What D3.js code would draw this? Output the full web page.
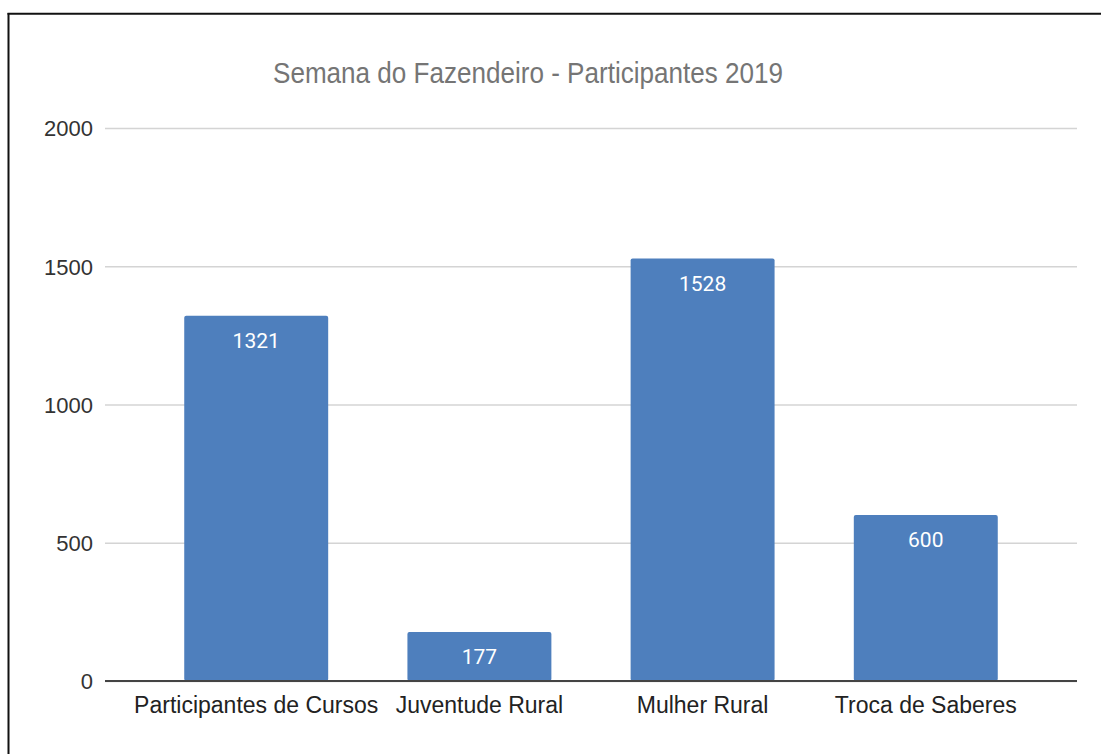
<!DOCTYPE html>
<html>
<head>
<meta charset="utf-8">
<script src="https://cdn.jsdelivr.net/npm/d3@7"></script>
<style>
  body { margin: 0; background: #fff; }
  svg { display: block; }
  .tick text { font-family: "Liberation Sans", Arial, sans-serif; }
</style>
</head>
<body>
<div id="chart"></div>
<script>
// values
const categories = ['Participantes de Cursos', 'Juventude Rural', 'Mulher Rural', 'Troca de Saberes'];
const participants = [1321, 177, 1528, 600];
const yTicks = [0, 500, 1000, 1500, 2000];
const chartTitle = 'Semana do Fazendeiro - Participantes 2019';

const width = 1101, height = 754;
const margin = { top: 128, right: 24, bottom: 73, left: 105 };
const innerW = width - margin.left - margin.right;
const innerH = height - margin.top - margin.bottom;

const svg = d3.select('#chart')
    .append('svg')
    .attr('width', width)
    .attr('height', height);

// frame lines (left and top only, as in the screenshot)
svg.append('line')
    .attr('x1', 8.5).attr('x2', 8.5)
    .attr('y1', 13).attr('y2', height)
    .attr('stroke', '#111').attr('stroke-width', 2);
svg.append('line')
    .attr('x1', 7.5).attr('x2', width)
    .attr('y1', 13.7).attr('y2', 13.7)
    .attr('stroke', '#111').attr('stroke-width', 2);

const chart = svg.append('g')
    .attr('transform', `translate(${margin.left},${margin.top})`);

const x = d3.scaleBand()
    .domain(categories)
    .range([0, innerW])
    .padding(0.355);

const y = d3.scaleLinear()
    .domain([0, 2000])
    .range([innerH, 0]);

// gridlines + y labels
const yAxis = d3.axisLeft(y)
    .tickValues(yTicks)
    .tickSize(-innerW)
    .tickPadding(12)
    .tickFormat(d3.format('d'));

chart.append('g')
    .attr('class', 'y-axis')
    .call(yAxis)
    .call(g => g.select('.domain').remove())
    .call(g => g.selectAll('.tick line')
        .attr('stroke', '#d4d4d4')
        .attr('stroke-width', 1.5))
    .call(g => g.selectAll('.tick text')
        .attr('font-size', 22)
        .attr('fill', '#333')
        .attr('dy', '0.36em'));

// bars
chart.selectAll('.bar')
    .data(participants)
    .join('rect')
    .attr('class', 'bar')
    .attr('x', (d, i) => x(categories[i]))
    .attr('y', d => y(d))
    .attr('width', x.bandwidth())
    .attr('height', d => innerH - y(d))
    .attr('rx', 2)
    .attr('fill', '#4e7fbd');

// value labels inside the bars
chart.selectAll('.value')
    .data(participants)
    .join('text')
    .attr('class', 'value')
    .attr('x', (d, i) => x(categories[i]) + x.bandwidth() / 2)
    .attr('y', d => y(d) + 32)
    .attr('text-anchor', 'middle')
    .attr('font-family', 'Roboto, sans-serif')
    .attr('font-size', 21)
    .attr('fill', '#fff')
    .text(d => d);

// baseline
chart.append('line')
    .attr('x1', 0).attr('x2', innerW)
    .attr('y1', y(0)).attr('y2', y(0))
    .attr('stroke', '#444')
    .attr('stroke-width', 2);

// x labels
const xAxis = d3.axisBottom(x).tickSize(0).tickPadding(16);
chart.append('g')
    .attr('class', 'x-axis')
    .attr('transform', `translate(0,${innerH})`)
    .call(xAxis)
    .call(g => g.select('.domain').remove())
    .call(g => g.selectAll('.tick text')
        .attr('font-size', 23)
        .attr('fill', '#222'));

// title, slightly stretched vertically like the screenshot
svg.append('text')
    .attr('transform', 'translate(273,83) scale(1,1.15)')
    .attr('font-family', '"Liberation Sans", Arial, sans-serif')
    .attr('font-size', 26)
    .attr('fill', '#757575')
    .attr('textLength', 510)
    .attr('lengthAdjust', 'spacingAndGlyphs')
    .text(chartTitle);
</script>
</body>
</html>
